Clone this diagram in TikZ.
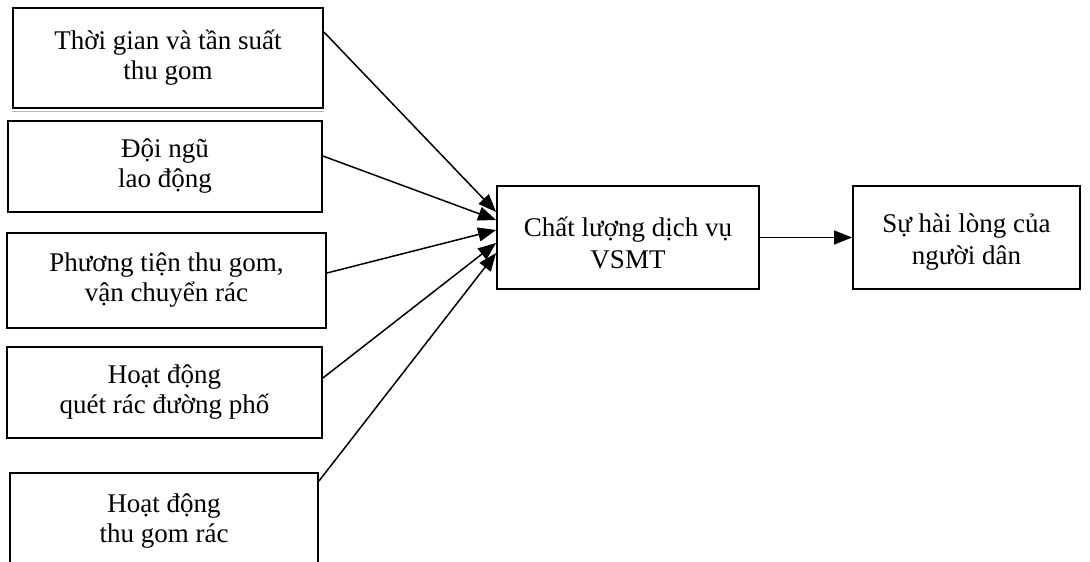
\documentclass[tikz,border=0pt]{standalone}
\usepackage{fontspec}
\setmainfont{Liberation Serif}
\usetikzlibrary{arrows.meta,positioning}
\begin{document}
\begin{tikzpicture}[x=1pt,y=-1pt,
  factor/.style={draw,line width=1.8pt,rectangle,align=center,inner sep=0pt,
    font=\fontsize{27}{30}\selectfont},
  caption/.style={align=center,inner sep=0pt,font=\fontsize{27}{32}\selectfont},
  link/.style={line width=1.5pt,-{Triangle[length=18pt,width=14pt]}}]
\useasboundingbox (0,0) rectangle (1090,562);

% factor boxes on the left
\node[factor,minimum width=310,minimum height=100] (b1) at (168,58)
  {Thời gian và tần suất\\thu gom};
\draw[gray!55,line width=1pt] ([yshift=-2.5pt]b1.south west) -- ([yshift=-2.5pt]b1.south east);
\node[factor,minimum width=314,minimum height=91] (b2) at (165,166.5)
  {Đội ngũ\\lao động};
\node[factor,minimum width=319,minimum height=95] (b3) at (166.5,280.5)
  {Phương tiện thu gom,\\vận chuyển rác};
\node[factor,minimum width=315,minimum height=91] (b4) at (164.5,392.5)
  {Hoạt động\\quét rác đường phố};
\node[factor,minimum width=308,minimum height=96] (b5) at (164,521)
  {Hoạt động\\thu gom rác};

% central concept and outcome
\node[factor,minimum width=262,minimum height=103] (c) at (628,237.5) {};
\node[caption] (ct) at ([yshift=-5pt]c.center) {Chất lượng dịch vụ\\VSMT};
\node[factor,minimum width=227,minimum height=103] (r) at (966.5,237.5) {};
\node[caption] (rt) at ([yshift=-5pt]r.center) {Sự hài lòng của\\người dân};

% arrow end points on the central box
\coordinate (t1) at ([yshift=25.5pt]c.west);
\coordinate (t2) at ([yshift=17.5pt]c.west);
\coordinate (t3) at ([yshift=7.5pt]c.west);
\coordinate (t4) at ([yshift=-5.5pt]c.west);
\coordinate (t5) at ([yshift=-15.5pt]c.west);

\draw[link] ([yshift=26pt]b1.east) -- (t1);
\draw[link] ([yshift=10.5pt]b2.east) -- (t2);
\draw[link] ([yshift=7.5pt]b3.east) -- (t3);
\draw[link] ([yshift=14.5pt]b4.east) -- (t4);
\draw[link] ([yshift=-9pt]b5.north east) -- (t5);
\draw[link] (c.east) -- (r.west);
\end{tikzpicture}
\end{document}
